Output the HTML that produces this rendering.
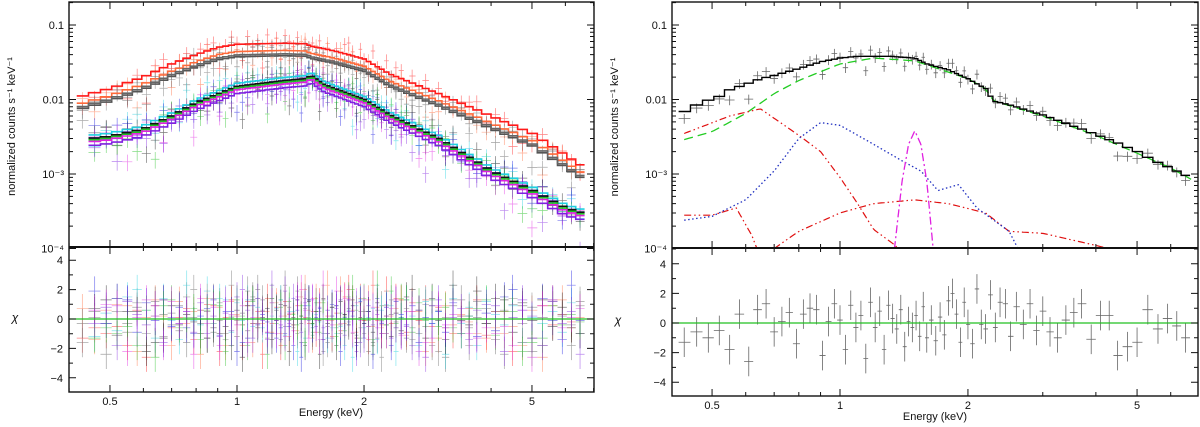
<!DOCTYPE html>
<html><head><meta charset="utf-8"><style>
body{margin:0;background:#fff;}
svg{display:block;font-family:"Liberation Sans",sans-serif;}
</style></head><body>
<svg id="chart" width="1200" height="427" viewBox="0 0 1200 427" xmlns="http://www.w3.org/2000/svg"></svg>
<script>
// ---- data ----
const binE=[0.43,0.46,0.49,0.52,0.55,0.58,0.61,0.64,0.67,0.70,0.73,0.76,0.79,0.82,0.85,0.88,0.91,0.94,0.97,1.00,1.03,1.06,1.09,1.12,1.15,1.18,1.21,1.24,1.27,1.30,1.33,1.36,1.39,1.42,1.45,1.48,1.51,1.54,1.57,1.60,1.64,1.68,1.72,1.76,1.80,1.84,1.88,1.92,1.96,2.00,2.05,2.10,2.15,2.20,2.26,2.32,2.38,2.45,2.52,2.60,2.70,2.80,2.90,3.00,3.12,3.25,3.40,3.55,3.70,3.90,4.10,4.30,4.50,4.75,5.00,5.30,5.60,5.90,6.20,6.50];
const resid=[-1.3,-0.6,-1.0,-0.5,-1.8,0.6,-2.6,0.9,1.3,-0.6,0.1,0.7,-1.4,0.6,1.0,0.9,-2.2,0.1,1.3,0.2,-1.8,1.2,-0.3,0.5,-2.4,1.4,-0.3,0.8,-1.8,1.2,0.3,-0.4,0.9,-1.6,0.1,-0.3,0.5,-0.9,1.1,-1.0,0.2,-1.2,0.4,-0.8,1.5,2.0,0.6,-1.3,1.4,-0.1,-1.4,2.3,-0.1,-0.4,1.9,-0.3,1.4,1.3,-0.9,1.1,-0.1,1.3,-0.5,0.8,-0.6,-1.0,0.2,0.7,1.3,-1.1,0.5,0.5,-2.2,-1.6,-1.3,0.9,-0.4,0.3,-0.2,-1.0];
// left panel model shapes
const upperE=[0.4,0.5,0.6,0.7,0.8,0.9,1.0,1.3,1.45,1.5,1.7,2.0,2.3,3.0,4.0,5.0,6.0,7.0];
const upperV=[0.010,0.014,0.020,0.030,0.040,0.050,0.055,0.057,0.056,0.052,0.045,0.035,0.022,0.012,0.006,0.0035,0.0018,0.001];
const lowerE=[0.45,0.5,0.6,0.7,0.8,1.0,1.3,1.45,1.5,1.6,2.0,2.3,3.0,4.0,5.0,6.0,6.6];
const lowerV=[0.003,0.0032,0.004,0.006,0.009,0.015,0.018,0.019,0.021,0.016,0.010,0.0062,0.003,0.0011,0.0006,0.00035,0.0003];
const upperScale=[1.0,0.8,0.68,0.72];
const upperColors=["#ff1a1a","#ff6a3a","#555555","#666666"];
const lowerScale=[1.1,1.0,1.0,0.95,0.9,0.8];
const lowerColors=["#20d0e0","#1010e0","#111111","#20c020","#e020e0","#8020e0"];
// right panel model components
const totE=[0.43,0.47,0.52,0.55,0.6,0.65,0.7,0.8,0.9,1.0,1.1,1.3,1.5,1.6,1.8,2.0,2.2,2.3,2.5,3.0,3.5,4.0,4.5,5.0,5.5,6.0,6.7];
const totV=[0.0069,0.009,0.011,0.0135,0.016,0.019,0.021,0.026,0.032,0.036,0.038,0.038,0.036,0.030,0.025,0.019,0.014,0.0095,0.0085,0.0062,0.0045,0.0034,0.0026,0.002,0.0015,0.0012,0.00088];
const pwlE=[0.43,0.5,0.6,0.7,0.8,1.0,1.2,1.5,2.0,2.2,2.3,2.5,3.0,4.0,5.0,6.0,6.7];
const pwlV=[0.0029,0.0037,0.0065,0.012,0.018,0.030,0.036,0.033,0.019,0.014,0.0095,0.0083,0.006,0.0033,0.0019,0.0012,0.00085];
const soft1E=[0.43,0.55,0.65,0.8,0.9,1.0,1.1,1.2,1.35,1.45];
const soft1V=[0.0035,0.006,0.0075,0.0033,0.002,0.0009,0.0004,0.00018,0.00011,0.00006];
const soft2E=[0.43,0.5,0.57,0.62,0.66];
const soft2V=[0.00028,0.00028,0.00035,0.00015,0.00006];
const hotE=[0.7,0.8,1.0,1.2,1.5,1.8,2.2,2.5,3.0,4.0,4.6];
const hotV=[0.0001,0.00017,0.0003,0.0004,0.00045,0.0004,0.0003,0.00017,0.00016,0.00011,0.00009];
const blueE=[0.43,0.5,0.6,0.7,0.8,0.9,1.0,1.2,1.4,1.55,1.7,1.9,2.1,2.5,2.6,2.7];
const blueV=[0.00024,0.00027,0.00045,0.0011,0.003,0.0049,0.0045,0.0025,0.0015,0.0011,0.0006,0.00072,0.00035,0.00017,0.00011,0.00007];
const lineE=[1.33,1.4,1.45,1.5,1.55,1.6,1.67];
const lineV=[0.00006,0.0008,0.0025,0.0038,0.0025,0.0008,0.00006];
const xTicks=[0.5,1,2,5];
const xMinor=[0.4,0.6,0.7,0.8,0.9,3,4,6,7];
const yTicks=[0.1,0.01,0.001,0.0001];
const yTickLabels=["0.1","0.01","10⁻³","10⁻⁴"];
const chiTicks=[4,2,0,-2,-4];

// ---- helpers ----
const NS="http://www.w3.org/2000/svg";
const svg=document.getElementById('chart');
function mk(tag,attrs,parent){const e=document.createElementNS(NS,tag);for(const k in attrs)e.setAttribute(k,attrs[k]);(parent||svg).appendChild(e);return e;}
function interp(E,V,e){
  if(e<=E[0])return V[0]; if(e>=E[E.length-1])return V[V.length-1];
  for(let i=0;i<E.length-1;i++){if(e<=E[i+1]){const t=(Math.log(e)-Math.log(E[i]))/(Math.log(E[i+1])-Math.log(E[i]));return Math.exp(Math.log(V[i])+t*(Math.log(V[i+1])-Math.log(V[i])));}}
}
function edges(i){const lo=i>0?Math.sqrt(binE[i-1]*binE[i]):binE[0]*0.97;const hi=i<binE.length-1?Math.sqrt(binE[i]*binE[i+1]):binE[i]*1.025;return [lo,hi];}

function makePanel(P){
  const X=e=>P.x0+P.dec*Math.log10(e);
  const Y=v=>P.y01+74.5*(-1-Math.log10(v));
  const C=c=>P.c0-P.cu*c;
  const g=mk('g',{});
  
  
  const cp='clip-'+P.name;
  const d=mk('defs',{},g);
  const c1=mk('clipPath',{id:cp+'a'},d);mk('rect',{x:P.l,y:P.t,width:P.r-P.l,height:P.m-P.t},c1);
  const c2=mk('clipPath',{id:cp+'b'},d);mk('rect',{x:P.l,y:P.m,width:P.r-P.l,height:P.b-P.m},c2);
  const top=mk('g',{'clip-path':`url(#${cp}a)`},g);
  const bot=mk('g',{'clip-path':`url(#${cp}b)`},g);
  return {X,Y,C,g,top,bot};
}
function crosses(panel,parent,color,modelFn,startE,shift,errFrac,op,sw){
  const grp=mk('g',{stroke:color,'stroke-width':sw,opacity:op,fill:'none'},parent.top);
  
  
  const rg=mk('g',{stroke:color,'stroke-width':sw,opacity:op,fill:'none'},parent.bot);
  
  
  let ds='',rs='';
  binE.forEach((e,i)=>{
    if(e<startE)return;
    const r=resid[(i+shift)%resid.length];
    const m=modelFn(e);const v=m*(1+errFrac*r);
    const [lo,hi]=edges(i);
    const x=panel.X(e),xl=panel.X(lo),xh=panel.X(hi);
    const y=panel.Y(v),yl=panel.Y(v*(1+errFrac)),yh=panel.Y(Math.max(v*(1-errFrac),v*0.3));
    ds+=`M${xl},${y}H${xh}M${x},${yl}V${yh}`;
    const cy=panel.C(r);
    rs+=`M${xl},${cy}H${xh}M${x},${panel.C(r+1)}V${panel.C(r-1)}`;
  });
  mk('path',{d:ds},grp);mk('path',{d:rs},rg);
}
function stepModel(panel,color,fn,startE,sw,name){
  let d='';
  binE.forEach((e,i)=>{
    if(e<startE)return;
    const [lo,hi]=edges(i);const y=panel.Y(fn(e));
    d+=(d?'L':'M')+panel.X(lo)+','+y+'L'+panel.X(hi)+','+y;
  });
  const p=mk('path',{d,stroke:color,'stroke-width':sw,fill:'none'},panel.top);
  
  
}
function smooth(panel,E,V,color,dash,sw,name){
  let d='';
  for(let k=0;k<=120;k++){const e=Math.exp(Math.log(E[0])+k/120*(Math.log(E[E.length-1])-Math.log(E[0])));d+=(k?'L':'M')+panel.X(e).toFixed(1)+','+panel.Y(interp(E,V,e)).toFixed(1);}
  const p=mk('path',{d,stroke:color,'stroke-width':sw,fill:'none','stroke-dasharray':dash},panel.top);
  
  
}
function axes(panel,P,labelX){
  const g=mk('g',{stroke:'#111','stroke-width':1,fill:'none'},panel.g);
  let d='';
  xTicks.forEach(t=>{const x=panel.X(t);d+=`M${x},${P.t}v7M${x},${P.m}v-7M${x},${P.m}v7M${x},${P.b}v-7`;});
  xMinor.forEach(t=>{const x=panel.X(t);if(x<P.l||x>P.r)return;d+=`M${x},${P.t}v4M${x},${P.m}v-4M${x},${P.m}v4M${x},${P.b}v-4`;});
  yTicks.forEach(t=>{const y=panel.Y(t);d+=`M${P.l},${y}h7M${P.r},${y}h-7`;
    for(let k=2;k<10;k++){const yy=panel.Y(t*k);if(yy>P.t&&yy<P.m)d+=`M${P.l},${yy}h4M${P.r},${yy}h-4`;}});
  chiTicks.forEach(t=>{const y=panel.C(t);d+=`M${P.l},${y}h7M${P.r},${y}h-7`;});
  for(let c=-5;c<=5;c++){const y=panel.C(c);if(y>P.m&&y<P.b)d+=`M${P.l},${y}h4M${P.r},${y}h-4`;}
  mk('path',{d},g);
  mk('rect',{x:P.l,y:P.t,width:P.r-P.l,height:P.b-P.t,'stroke-width':1.4},g);
  mk('line',{x1:P.l,x2:P.r,y1:P.m,y2:P.m,'stroke-width':2},g);
  const tg=mk('g',{fill:'#111','font-size':11},panel.g);
  xTicks.forEach(t=>{const tx=mk('text',{x:panel.X(t),y:P.b+13,'text-anchor':'middle'},tg);tx.textContent=String(t);
    });
  yTicks.forEach((t,i)=>{const tx=mk('text',{x:P.l-5,y:panel.Y(t)+4,'text-anchor':'end'},tg);tx.textContent=yTickLabels[i];
    });
  chiTicks.forEach(t=>{const tx=mk('text',{x:P.l-6,y:panel.C(t)+4,'text-anchor':'end'},tg);tx.textContent=t<0?'−'+(-t):String(t);
    });
  const yl=mk('text',{x:0,y:0,'text-anchor':'middle','font-size':11,transform:`translate(${P.l-54},${(P.t+P.m)/2+2}) rotate(-90)`},tg);
  yl.textContent='normalized counts s⁻¹ keV⁻¹';
  
  const cl=mk('text',{x:P.l-54,y:(P.m+P.b)/2+2,'text-anchor':'middle','font-size':12,'font-style':'italic'},tg);
  cl.textContent='χ';
  
  const xl=mk('text',{x:labelX,y:P.b+24,'text-anchor':'middle','font-size':11},tg);
  xl.textContent='Energy (keV)';
  
}

// ---- left panel ----
const PL={name:'left-panel',l:69,r:594,t:2,m:247,b:392,x0:237,dec:422,y01:25,c0:319,cu:14.7};
const L=makePanel(PL);
upperScale.forEach((s,k)=>crosses(L,L,upperColors[k],e=>interp(upperE,upperV,e)*s,0.4,k*11,0.22,0.55,0.7));
lowerScale.forEach((s,k)=>crosses(L,L,lowerColors[k],e=>interp(lowerE,lowerV,e)*s,0.45,k*13+40,0.25,0.55,0.7));
lowerScale.forEach((s,k)=>stepModel(L,lowerColors[k],e=>interp(lowerE,lowerV,e)*s,0.45,1.6,'model-lower-'+k));
upperScale.forEach((s,k)=>stepModel(L,upperColors[k],e=>interp(upperE,upperV,e)*s,0.4,1.6,'model-upper-'+k));
{const z=mk('line',{x1:PL.l,x2:PL.r,y1:L.C(0),y2:L.C(0),stroke:'#20c020','stroke-width':1.2},L.bot);
 }
axes(L,PL,331);

// ---- right panel ----
const PR={name:'right-panel',l:672,r:1198,t:2,m:248,b:396,x0:840,dec:425,y01:25,c0:323,cu:14.8};
const R=makePanel(PR);
crosses(R,R,'#333',e=>interp(totE,totV,e),0.43,0,0.15,0.75,0.8);
smooth(R,pwlE,pwlV,'#22cc22','9,5',1.3,'powerlaw-component');
smooth(R,soft1E,soft1V,'#e01010','7,3,1.5,3,1.5,3',1.2,'soft-thermal-component');
smooth(R,soft2E,soft2V,'#e01010','7,3,1.5,3,1.5,3',1.2,'soft-thermal-component-2');
smooth(R,hotE,hotV,'#e01010','7,3,1.5,3,1.5,3',1.2,'hot-thermal-component');
smooth(R,blueE,blueV,'#2030c0','1.5,2.5',1.3,'thermal-dotted-component');
smooth(R,lineE,lineV,'#e020e0','8,3,2,3',1.3,'gaussian-line-component');
stepModel(R,'#000',e=>interp(totE,totV,e),0.43,1.4,'total-model');
{const z=mk('line',{x1:PR.l,x2:PR.r,y1:R.C(0),y2:R.C(0),stroke:'#20c020','stroke-width':1.3},R.bot);
 }
axes(R,PR,935);
</script>
</body></html>
